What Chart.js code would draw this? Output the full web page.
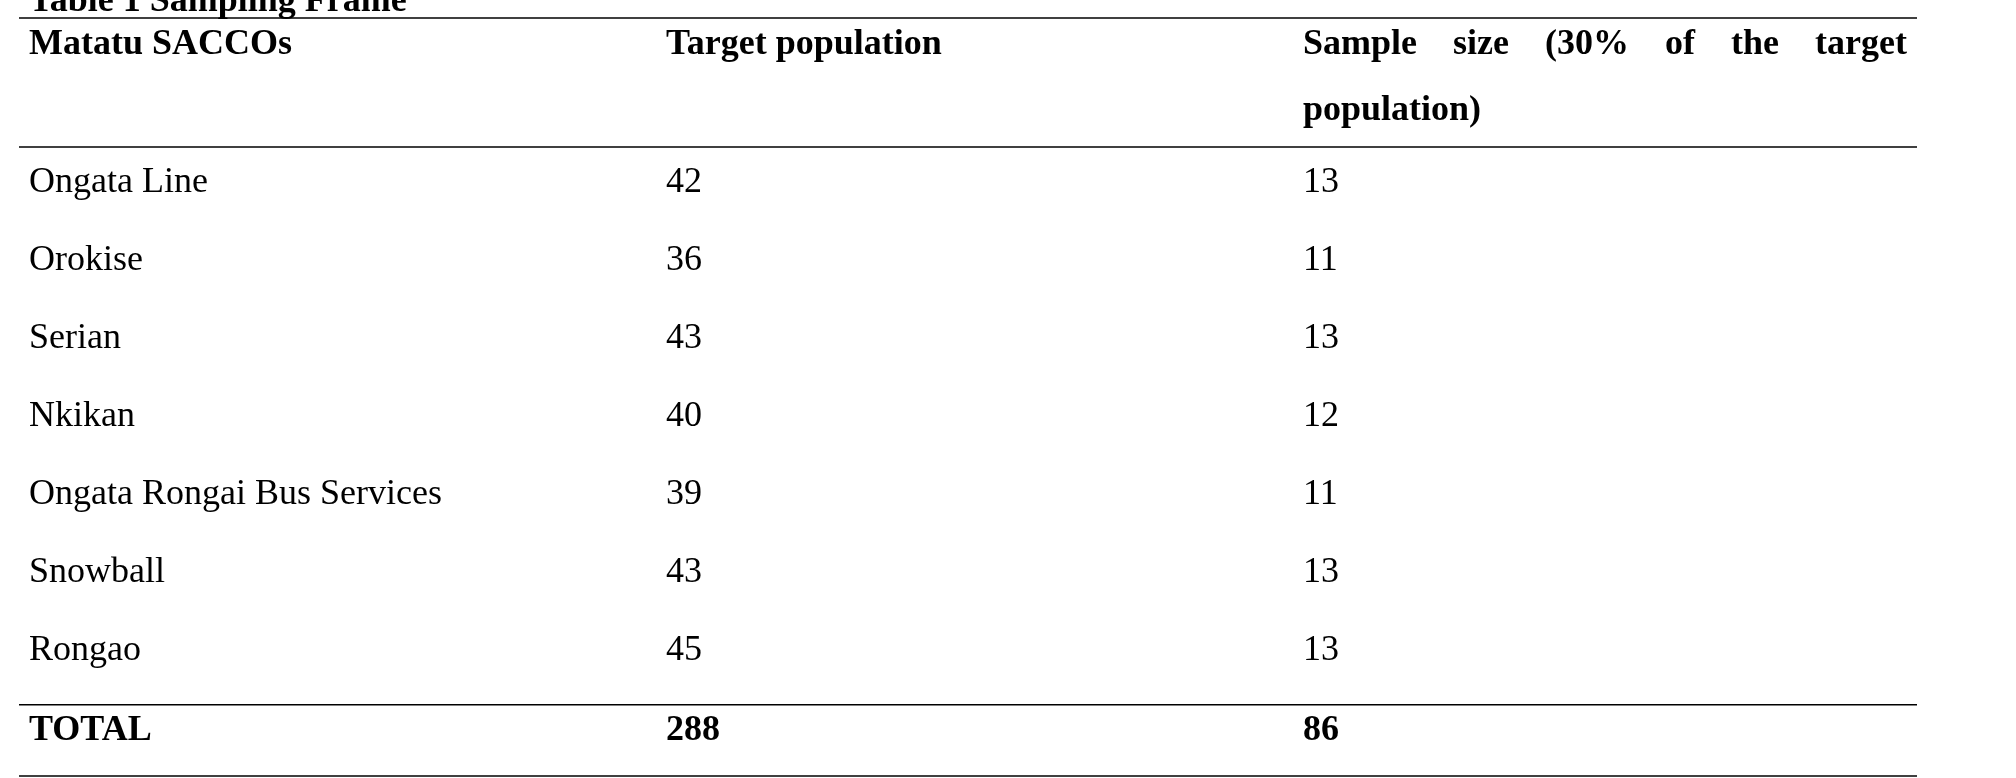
<!DOCTYPE html>
<html><head><meta charset="utf-8">
<script src="https://cdn.jsdelivr.net/npm/chart.js@4"></script>
<style>html,body{margin:0;padding:0;background:#fff}#w{width:2016px;height:778px}</style>
</head><body><div id="w"><canvas id="c"></canvas></div>
<script>
const saccos = ["Ongata Line","Orokise","Serian","Nkikan","Ongata Rongai Bus Services","Snowball","Rongao"];
const targetPopulation = [42,36,43,40,39,43,45];
const sampleSize = [13,11,13,12,11,13,13];
const totalLabel = "TOTAL";
const totalTarget = 288;
const totalSample = 86;
const headers = ["Matatu SACCOs","Target population","Sample size (30% of the target","population)"];
const title = "Table 1 Sampling Frame";

const colX = [29, 666, 1303];
const FONT = '"Liberation Serif", "Times New Roman", serif';
const tablePlugin = {
  id: 'table',
  afterDraw(chart) {
    const ctx = chart.ctx, y = chart.scales.y;
    const step = y.getPixelForValue(1) - y.getPixelForValue(0);
    const r0 = y.getPixelForValue(0), rN = y.getPixelForValue(saccos.length - 1);
    ctx.save();
    ctx.fillStyle = '#000'; ctx.strokeStyle = '#000'; ctx.lineWidth = 1.6;
    const hline = yy => { ctx.beginPath(); ctx.moveTo(19, yy); ctx.lineTo(1917, yy); ctx.stroke(); };
    hline(18); hline(147); hline(rN + step*0.69); hline(776);
    ctx.textBaseline = 'middle';
    ctx.font = 'bold 36px ' + FONT;
    ctx.fillText(title, 29, 2);
    ctx.fillText(headers[0], colX[0], 45);
    ctx.fillText(headers[1], colX[1], 45);
    // justified header
    const words = headers[2].split(' ');
    const totalW = words.reduce((s,w)=>s+ctx.measureText(w).width,0);
    const gap = (1907 - colX[2] - totalW) / (words.length - 1);
    let x = colX[2];
    words.forEach(w => { ctx.fillText(w, x, 45); x += ctx.measureText(w).width + gap; });
    ctx.fillText(headers[3], colX[2], 111);
    ctx.font = '36px ' + FONT;
    saccos.forEach((s, i) => {
      const yy = y.getPixelForValue(i);
      ctx.fillText(s, colX[0], yy);
      ctx.fillText(String(targetPopulation[i]), colX[1], yy);
      ctx.fillText(String(sampleSize[i]), colX[2], yy);
    });
    ctx.font = 'bold 36px ' + FONT;
    const ty = rN + step*1.02;
    ctx.fillText(totalLabel, colX[0], ty);
    ctx.fillText(String(totalTarget), colX[1], ty);
    ctx.fillText(String(totalSample), colX[2], ty);
    ctx.restore();
  }
};
new Chart(document.getElementById('c'), {
  type: 'bar',
  data: { labels: saccos, datasets: [{ data: targetPopulation.map(()=>null) }] },
  options: {
    indexAxis: 'y', responsive: true, maintainAspectRatio: false, animation: false,
    layout: { padding: { top: 144, bottom: 88, left: 0, right: 0 } },
    plugins: { legend: { display: false }, tooltip: { enabled: false } },
    scales: {
      y: { type: 'category', display: false, offset: true },
      x: { type: 'linear', display: false, min: 0, max: 1 }
    }
  },
  plugins: [tablePlugin]
});
</script></body></html>
